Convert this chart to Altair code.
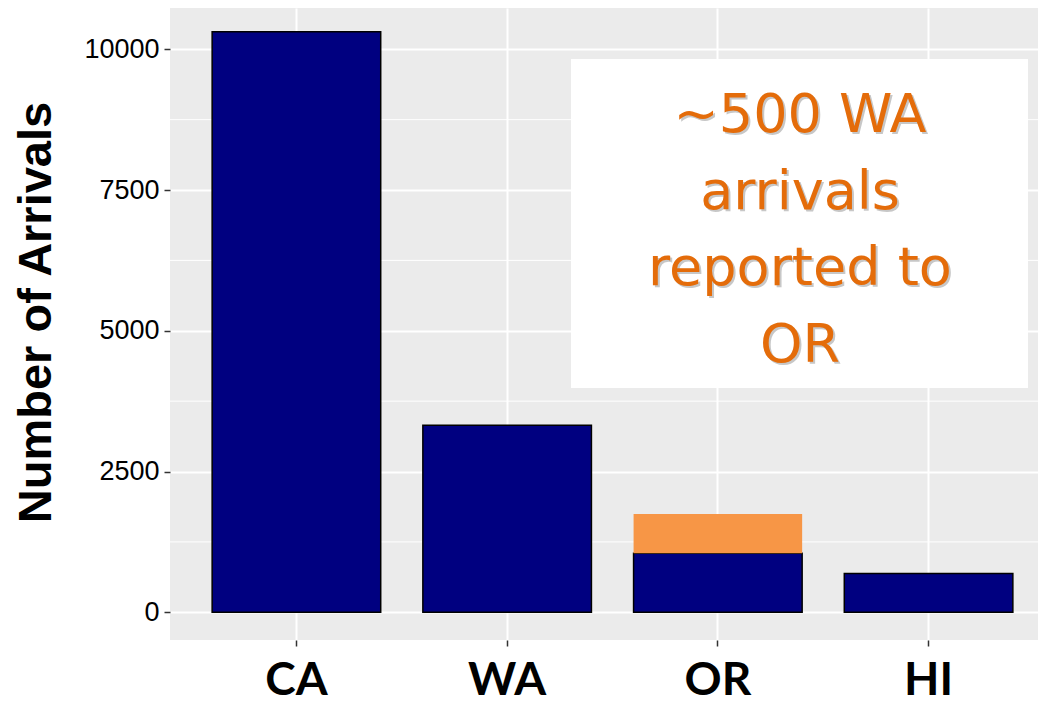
import altair as alt
import pandas as pd

# ---- data ----
states = ["CA", "WA", "OR", "HI"]
reported = [10310, 3320, 1050, 690]      # navy bars
wa_extra = [0, 0, 695, 0]                # orange: WA arrivals reported to OR
y_ticks = [0, 2500, 5000, 7500, 10000]
y_minor = [1250, 3750, 6250, 8750]
note_lines = ["~500 WA", "arrivals", "reported to", "OR"]
y_title = "Number of Arrivals"

base_df = pd.DataFrame({"state": states, "y0": [0] * 4, "y1": reported})
extra_df = pd.DataFrame({
    "state": states,
    "y0": reported,
    "y1": [r + e for r, e in zip(reported, wa_extra)],
    "e": wa_extra,
})
extra_df = extra_df[extra_df["e"] > 0]
minor_df = pd.DataFrame({"v": y_minor})
note_df = pd.DataFrame({"k": [0]})

W, H = 868, 632
y_scale = alt.Scale(domain=[-492, 10733], nice=False, zero=False)
x_scale = alt.Scale(domain=states, range=[0, 885], paddingInner=0.2, paddingOuter=0.2)

gothic = "URW Gothic, Century Gothic, DejaVu Sans"

y_axis = alt.Axis(
    values=y_ticks, format="d", domain=False, grid=True, gridColor="white", gridWidth=2,
    tickColor="#333333", tickSize=6, tickWidth=1.5,
    labelFont="Liberation Sans", labelFontSize=27, labelColor="black", labelPadding=5,
    title=y_title, titleFont="Liberation Sans", titleFontSize=47, titleFontWeight="bold",
    titleColor="black", titleAngle=270, titleX=-120, titleY=304,
    titleAlign="center", titleBaseline="alphabetic",
)
x_axis = alt.Axis(
    title=None, domain=False, grid=True, gridColor="white", gridWidth=2,
    bandPosition=0.5, tickBand="center",
    tickColor="#333333", tickSize=6, tickWidth=1.5, labelAngle=0,
    labelFont="URW Gothic, Century Gothic, Lato", labelFontSize=46, labelFontWeight="bold",
    labelColor="black", labelPadding=12,
)

minor = alt.Chart(minor_df).mark_rule(color="white", strokeWidth=1).encode(
    y=alt.Y("v:Q", scale=y_scale, axis=y_axis),
    x=alt.value(0), x2=alt.value(W),
)

bars = alt.Chart(base_df).mark_bar(color="#000080", stroke="black", strokeWidth=1.5).encode(
    x=alt.X("state:N", sort=states, scale=x_scale, axis=x_axis),
    y=alt.Y("y1:Q", scale=y_scale, axis=y_axis),
    y2="y0:Q",
)

extra = alt.Chart(extra_df).mark_bar(color="#F79646").encode(
    x=alt.X("state:N", sort=states, scale=x_scale, axis=x_axis),
    y=alt.Y("y1:Q", scale=y_scale, axis=y_axis),
    y2="y0:Q",
)

box = alt.Chart(note_df).mark_rect(color="white").encode(
    x=alt.value(401), x2=alt.value(858), y=alt.value(51), y2=alt.value(380),
)

shadow = alt.Chart(note_df).mark_text(
    text=note_lines, font=gothic, fontSize=54, lineHeight=76.5,
    align="center", baseline="alphabetic", color="#9a9a9a", opacity=0.55, dx=2, dy=2,
).encode(x=alt.value(630), y=alt.value(124))

note = alt.Chart(note_df).mark_text(
    text=note_lines, font=gothic, fontSize=54, lineHeight=76.5,
    align="center", baseline="alphabetic", color="#E46C0A",
).encode(x=alt.value(630), y=alt.value(124))

chart = alt.layer(minor, bars, extra, box, shadow, note).properties(
    width=W, height=H,
    autosize=alt.AutoSizeParams(type="none"),
    padding={"left": 162, "top": 0, "right": 0, "bottom": 64},
).configure_view(fill="#EBEBEB", strokeWidth=0)

chart.save("out.html", embed_options={"renderer": "svg", "actions": False})
